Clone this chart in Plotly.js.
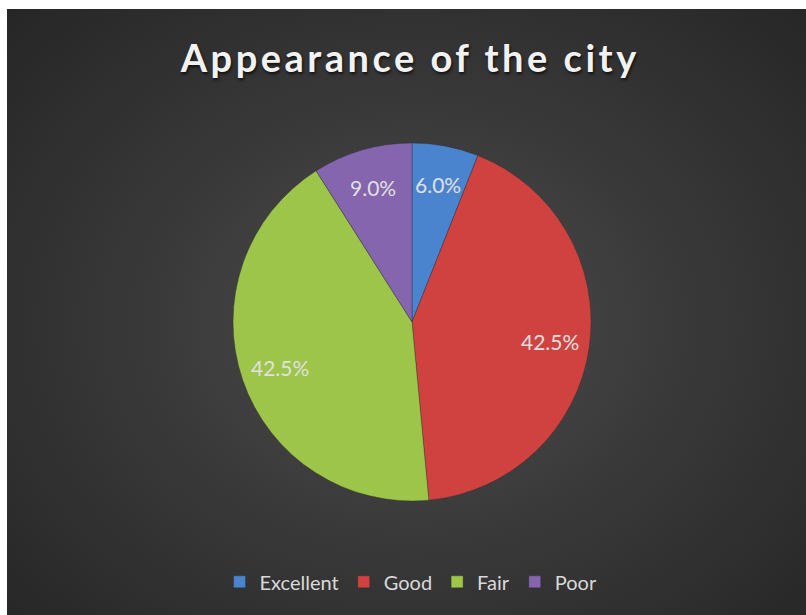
<!DOCTYPE html>
<html>
<head>
<meta charset="utf-8">
<script src="https://cdn.plot.ly/plotly-3.0.1.min.js"></script>
<style>
  html, body { margin: 0; padding: 0; background: #ffffff; }
  #bg { position: absolute; left: 7px; top: 9px; width: 799px; height: 606px;
        background: radial-gradient(ellipse 70% 75% at 51% 52%, #4f4f4f 0%, #3a3a3a 45%, #262626 100%); }
  #chart { position: absolute; left: 0; top: 0; width: 806px; height: 615px; }
  .gtitle { letter-spacing: 3.5px; }
</style>
</head>
<body>
<div id="bg"></div>
<div id="chart"></div>
<script>
const categories = ["Excellent", "Good", "Fair", "Poor"];
const shares = [6.0, 42.5, 42.5, 9.0];
const sliceColors = ["#4a84cf", "#d04240", "#9dc54a", "#8465ae"];
const chartTitle = "Appearance of the city";

// pie geometry (paper fractions)
const dom = { x: [0.2891, 0.7333], y: [0.1854, 0.7675] };
const W = 806, H = 615;
const labelRadius = 0.78;

const trace = {
  type: "pie",
  labels: categories,
  values: shares,
  sort: false,
  direction: "clockwise",
  rotation: 0,
  marker: { colors: sliceColors, line: { color: "rgba(40,40,40,0.35)", width: 1 } },
  textinfo: "none",
  hoverinfo: "label+percent",
  domain: dom
};

// data labels placed along each slice's mid-angle, derived from the shares
const total = shares.reduce((a, b) => a + b, 0);
const cx = (dom.x[0] + dom.x[1]) / 2 * W;
const cy = (1 - (dom.y[0] + dom.y[1]) / 2) * H;
const R = Math.min((dom.x[1] - dom.x[0]) * W, (dom.y[1] - dom.y[0]) * H) / 2;
let cum = 0;
const annotations = shares.map((v) => {
  const mid = (cum + v / 2) / total * 2 * Math.PI;
  cum += v;
  const px = cx + labelRadius * R * Math.sin(mid);
  const py = cy - labelRadius * R * Math.cos(mid);
  return {
    xref: "paper", yref: "paper",
    x: px / W, y: 1 - py / H,
    xanchor: "center", yanchor: "middle",
    showarrow: false,
    text: (v / total * 100).toFixed(1) + "%",
    font: { family: "Lato, 'Open Sans', sans-serif", size: 21, color: "#e0e0e0" }
  };
});

const layout = {
  width: W,
  height: H,
  paper_bgcolor: "rgba(0,0,0,0)",
  plot_bgcolor: "rgba(0,0,0,0)",
  margin: { l: 0, r: 0, t: 0, b: 0 },
  title: {
    text: "<b>" + chartTitle + "</b>",
    x: 0.509, xanchor: "center",
    y: 0.904, yanchor: "middle",
    font: { family: "Lato, 'Open Sans', sans-serif", size: 38, color: "#f2f2f2",
            shadow: "1px 2px 3px rgba(0,0,0,0.7)" }
  },
  annotations: annotations,
  showlegend: true,
  legend: {
    orientation: "h",
    x: 0.51, xanchor: "center",
    y: 0.054, yanchor: "middle",
    font: { family: "Lato, 'Open Sans', sans-serif", size: 20, color: "#d9d9d9" },
    bgcolor: "rgba(0,0,0,0)",
    itemwidth: 20,
    traceorder: "normal"
  }
};

Plotly.newPlot("chart", [trace], layout, { displayModeBar: false, staticPlot: true });
</script>
</body>
</html>
